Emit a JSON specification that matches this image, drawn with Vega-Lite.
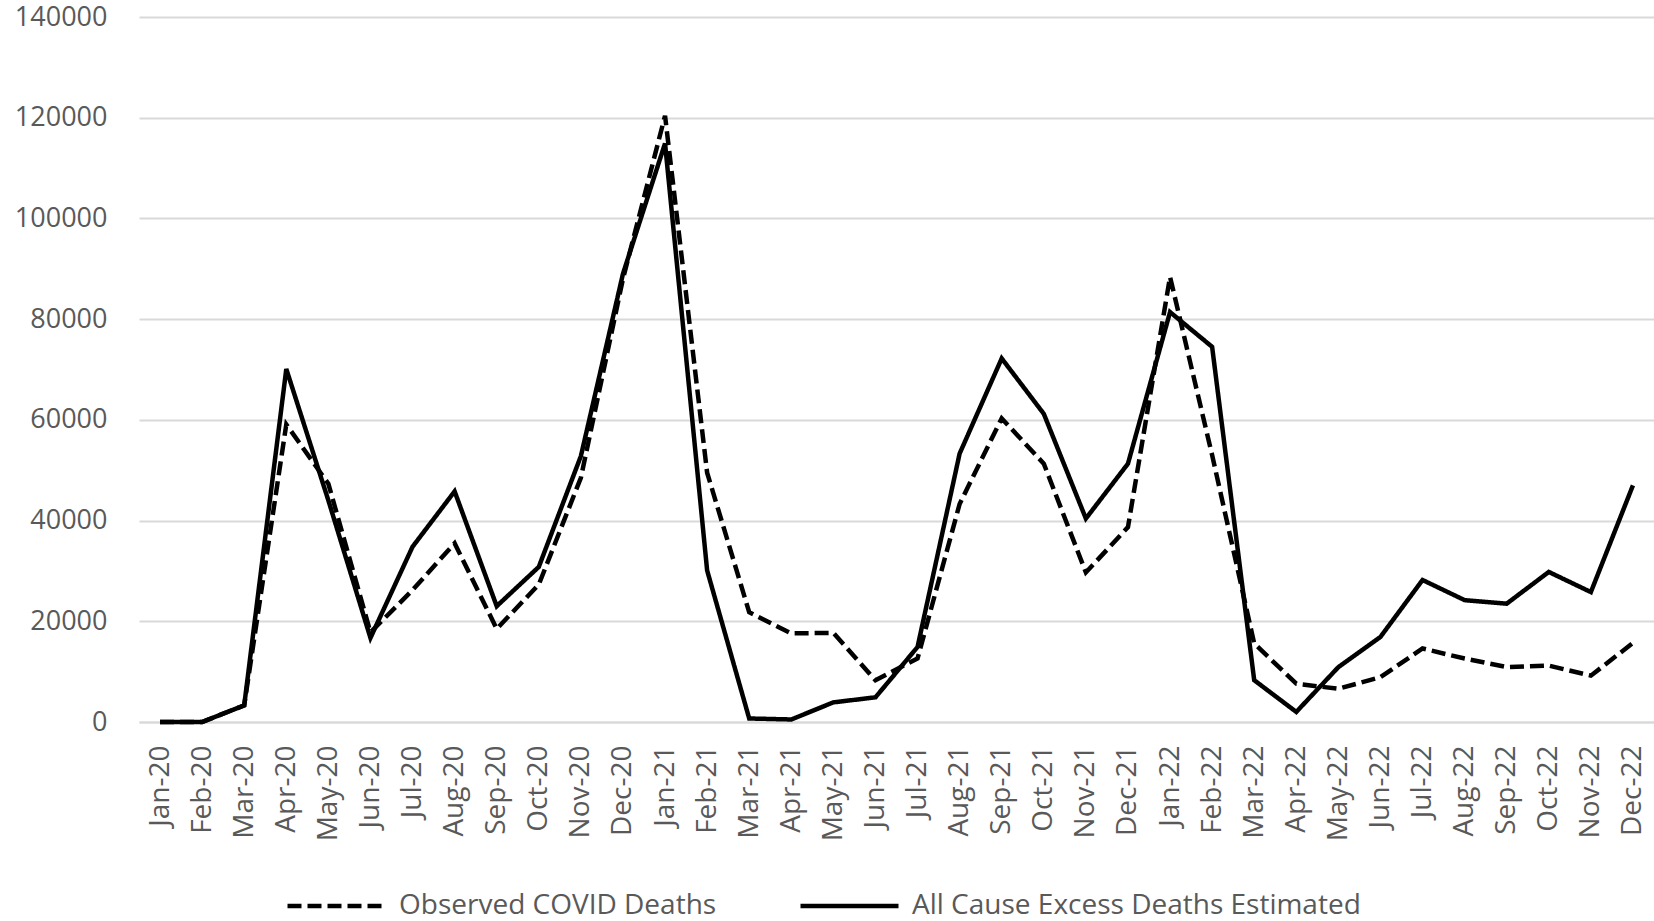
{
  "$schema": "https://vega.github.io/schema/vega-lite/v6.json",
  "description": "Monthly observed COVID deaths vs estimated all cause excess deaths, Jan 2020 - Dec 2022",
  "autosize": {"type": "none"},
  "padding": {"left": 139, "top": 17, "right": 0, "bottom": 199},
  "width": 1515,
  "height": 705,
  "background": "white",
  "data": {
    "values": [
      {"month": "Jan-20", "series": "Observed COVID Deaths", "deaths": 0},
      {"month": "Feb-20", "series": "Observed COVID Deaths", "deaths": 0},
      {"month": "Mar-20", "series": "Observed COVID Deaths", "deaths": 3300},
      {"month": "Apr-20", "series": "Observed COVID Deaths", "deaths": 59100},
      {"month": "May-20", "series": "Observed COVID Deaths", "deaths": 47300},
      {"month": "Jun-20", "series": "Observed COVID Deaths", "deaths": 17800},
      {"month": "Jul-20", "series": "Observed COVID Deaths", "deaths": 26200},
      {"month": "Aug-20", "series": "Observed COVID Deaths", "deaths": 35500},
      {"month": "Sep-20", "series": "Observed COVID Deaths", "deaths": 18500},
      {"month": "Oct-20", "series": "Observed COVID Deaths", "deaths": 27300},
      {"month": "Nov-20", "series": "Observed COVID Deaths", "deaths": 48500},
      {"month": "Dec-20", "series": "Observed COVID Deaths", "deaths": 88000},
      {"month": "Jan-21", "series": "Observed COVID Deaths", "deaths": 120400},
      {"month": "Feb-21", "series": "Observed COVID Deaths", "deaths": 49500},
      {"month": "Mar-21", "series": "Observed COVID Deaths", "deaths": 21800},
      {"month": "Apr-21", "series": "Observed COVID Deaths", "deaths": 17600},
      {"month": "May-21", "series": "Observed COVID Deaths", "deaths": 17700},
      {"month": "Jun-21", "series": "Observed COVID Deaths", "deaths": 8300},
      {"month": "Jul-21", "series": "Observed COVID Deaths", "deaths": 12600},
      {"month": "Aug-21", "series": "Observed COVID Deaths", "deaths": 43300},
      {"month": "Sep-21", "series": "Observed COVID Deaths", "deaths": 60300},
      {"month": "Oct-21", "series": "Observed COVID Deaths", "deaths": 51300},
      {"month": "Nov-21", "series": "Observed COVID Deaths", "deaths": 29700},
      {"month": "Dec-21", "series": "Observed COVID Deaths", "deaths": 38700},
      {"month": "Jan-22", "series": "Observed COVID Deaths", "deaths": 88400},
      {"month": "Feb-22", "series": "Observed COVID Deaths", "deaths": 53000},
      {"month": "Mar-22", "series": "Observed COVID Deaths", "deaths": 15600},
      {"month": "Apr-22", "series": "Observed COVID Deaths", "deaths": 7600},
      {"month": "May-22", "series": "Observed COVID Deaths", "deaths": 6600},
      {"month": "Jun-22", "series": "Observed COVID Deaths", "deaths": 8900},
      {"month": "Jul-22", "series": "Observed COVID Deaths", "deaths": 14600},
      {"month": "Aug-22", "series": "Observed COVID Deaths", "deaths": 12600},
      {"month": "Sep-22", "series": "Observed COVID Deaths", "deaths": 10900},
      {"month": "Oct-22", "series": "Observed COVID Deaths", "deaths": 11200},
      {"month": "Nov-22", "series": "Observed COVID Deaths", "deaths": 9200},
      {"month": "Dec-22", "series": "Observed COVID Deaths", "deaths": 15700},
      {"month": "Jan-20", "series": "All Cause Excess Deaths Estimated", "deaths": 0},
      {"month": "Feb-20", "series": "All Cause Excess Deaths Estimated", "deaths": 0},
      {"month": "Mar-20", "series": "All Cause Excess Deaths Estimated", "deaths": 3300},
      {"month": "Apr-20", "series": "All Cause Excess Deaths Estimated", "deaths": 70100},
      {"month": "May-20", "series": "All Cause Excess Deaths Estimated", "deaths": 44000},
      {"month": "Jun-20", "series": "All Cause Excess Deaths Estimated", "deaths": 16700},
      {"month": "Jul-20", "series": "All Cause Excess Deaths Estimated", "deaths": 34800},
      {"month": "Aug-20", "series": "All Cause Excess Deaths Estimated", "deaths": 45800},
      {"month": "Sep-20", "series": "All Cause Excess Deaths Estimated", "deaths": 23000},
      {"month": "Oct-20", "series": "All Cause Excess Deaths Estimated", "deaths": 30800},
      {"month": "Nov-20", "series": "All Cause Excess Deaths Estimated", "deaths": 52800},
      {"month": "Dec-20", "series": "All Cause Excess Deaths Estimated", "deaths": 89000},
      {"month": "Jan-21", "series": "All Cause Excess Deaths Estimated", "deaths": 114900},
      {"month": "Feb-21", "series": "All Cause Excess Deaths Estimated", "deaths": 30100},
      {"month": "Mar-21", "series": "All Cause Excess Deaths Estimated", "deaths": 700},
      {"month": "Apr-21", "series": "All Cause Excess Deaths Estimated", "deaths": 500},
      {"month": "May-21", "series": "All Cause Excess Deaths Estimated", "deaths": 3900},
      {"month": "Jun-21", "series": "All Cause Excess Deaths Estimated", "deaths": 4900},
      {"month": "Jul-21", "series": "All Cause Excess Deaths Estimated", "deaths": 14900},
      {"month": "Aug-21", "series": "All Cause Excess Deaths Estimated", "deaths": 53300},
      {"month": "Sep-21", "series": "All Cause Excess Deaths Estimated", "deaths": 72200},
      {"month": "Oct-21", "series": "All Cause Excess Deaths Estimated", "deaths": 61200},
      {"month": "Nov-21", "series": "All Cause Excess Deaths Estimated", "deaths": 40400},
      {"month": "Dec-21", "series": "All Cause Excess Deaths Estimated", "deaths": 51300},
      {"month": "Jan-22", "series": "All Cause Excess Deaths Estimated", "deaths": 81400},
      {"month": "Feb-22", "series": "All Cause Excess Deaths Estimated", "deaths": 74500},
      {"month": "Mar-22", "series": "All Cause Excess Deaths Estimated", "deaths": 8300},
      {"month": "Apr-22", "series": "All Cause Excess Deaths Estimated", "deaths": 2000},
      {"month": "May-22", "series": "All Cause Excess Deaths Estimated", "deaths": 10900},
      {"month": "Jun-22", "series": "All Cause Excess Deaths Estimated", "deaths": 16900},
      {"month": "Jul-22", "series": "All Cause Excess Deaths Estimated", "deaths": 28200},
      {"month": "Aug-22", "series": "All Cause Excess Deaths Estimated", "deaths": 24200},
      {"month": "Sep-22", "series": "All Cause Excess Deaths Estimated", "deaths": 23500},
      {"month": "Oct-22", "series": "All Cause Excess Deaths Estimated", "deaths": 29800},
      {"month": "Nov-22", "series": "All Cause Excess Deaths Estimated", "deaths": 25800},
      {"month": "Dec-22", "series": "All Cause Excess Deaths Estimated", "deaths": 47000}
    ]
  },
  "mark": {
    "type": "line",
    "color": "black",
    "strokeWidth": 4.5,
    "strokeJoin": "miter"
  },
  "encoding": {
    "x": {
      "field": "month",
      "type": "ordinal",
      "sort": null,
      "scale": {"type": "point", "padding": 0.5},
      "axis": {
        "title": null,
        "labelAngle": -90,
        "labelAlign": "right",
        "labelBaseline": "middle",
        "labelFont": "Open Sans",
        "labelFontSize": 28,
        "labelColor": "#595959",
        "labelPadding": 23,
        "ticks": false,
        "tickSize": 0,
        "grid": false,
        "domainColor": "#d9d9d9",
        "domainWidth": 2
      }
    },
    "y": {
      "field": "deaths",
      "type": "quantitative",
      "scale": {"domain": [0, 140000], "nice": false},
      "axis": {
        "title": null,
        "values": [0, 20000, 40000, 60000, 80000, 100000, 120000, 140000],
        "format": "d",
        "labelFont": "Open Sans",
        "labelFontSize": 27,
        "labelColor": "#595959",
        "labelPadding": 32,
        "ticks": false,
        "tickSize": 0,
        "domain": false,
        "gridColor": "#d9d9d9",
        "gridWidth": 2
      }
    },
    "strokeDash": {
      "field": "series",
      "type": "nominal",
      "scale": {
        "domain": ["Observed COVID Deaths", "All Cause Excess Deaths Estimated"],
        "range": [[14, 6], [1, 0]]
      },
      "legend": {
        "title": null,
        "orient": "none",
        "direction": "horizontal",
        "legendX": 146,
        "legendY": 869,
        "padding": 0,
        "clipHeight": 40,
        "symbolType": "stroke",
        "symbolSize": 9604,
        "symbolStrokeColor": "black",
        "symbolStrokeWidth": 4.5,
        "labelFont": "Open Sans",
        "labelFontSize": 28,
        "labelColor": "#595959",
        "labelOffset": 11,
        "labelLimit": 0,
        "columnPadding": 81
      }
    }
  },
  "config": {
    "view": {"stroke": null}
  }
}
